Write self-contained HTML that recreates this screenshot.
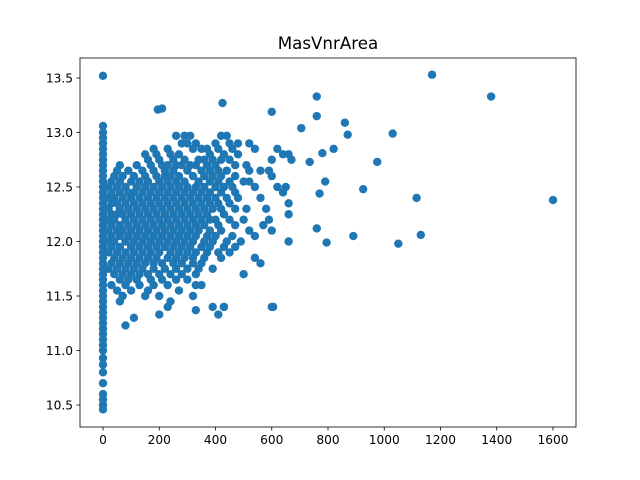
<!DOCTYPE html>
<html><head><meta charset="utf-8"><style>
body{margin:0;background:#fff;}
svg{display:block;font-family:"DejaVu Sans","Liberation Sans",sans-serif;}
</style></head><body>
<svg id="chart" width="640" height="480">
<rect width="640" height="480" fill="#fff"/>
<text x="328" y="49" font-size="16.7" text-anchor="middle">MasVnrArea</text>
<g id="pts"></g>
<g id="axes"></g>
</svg>
<script>
const xTicks=[0,200,400,600,800,1000,1200,1400,1600];
const yTicks=[10.5,11.0,11.5,12.0,12.5,13.0,13.5];
const zeroYs=[10.46,10.5,10.55,10.6,10.7,10.8,10.87,10.93,11.0,11.05,11.1,11.15,11.2,11.25,11.3,11.35,11.4,11.45,11.5,11.55,11.6,11.65,11.7,11.75,11.8,11.85,11.9,11.95,12.0,12.05,12.1,12.15,12.2,12.25,12.3,12.35,12.4,12.45,12.5,12.55,12.6,12.65,12.7,12.75,12.8,12.85,12.9,12.95,13.0,13.06,13.52];
const rowY=[12.97,12.9,12.85,12.8,12.75,12.7,12.65,12.6,12.55,12.5,12.45,12.4,12.35,12.3,12.25,12.2,12.15,12.1,12.05,12.0,11.95,11.9,11.85,11.8,11.75,11.7,11.65,11.6,11.55,11.5,11.45,11.4,11.37,11.33,11.3,11.23];
const rowX=[
[260,290,310,440,420],
[280,300,330,400,450,480,520],
[180,230,320,350,370,410,460,540,620],
[150,190,240,270,380,430,480,640,660],
[160,200,250,290,340,360,390,420,450,600,670],
[60,120,170,210,230,260,280,310,330,370,400,470,510],
[50,90,140,180,220,250,300,350,380,410,440,520,560,590],
[40,70,110,150,190,220,240,270,320,360,390,420,470,600],
[30,60,100,130,160,200,230,260,290,340,380,410,450,500,520],
[20,50,80,120,150,180,210,240,270,300,330,360,400,430,460,540,620,650],
[30,60,90,110,140,170,200,230,260,290,320,350,380,420,470,640],
[20,40,70,100,130,160,190,220,250,280,310,340,370,400,440,480,560],
[30,50,80,110,140,170,200,230,260,290,320,350,380,410,450,660],
[20,60,90,120,150,180,210,240,270,300,330,360,390,420,470,510,580],
[30,50,70,100,130,160,190,220,250,280,310,340,370,430,660],
[20,40,80,110,140,170,200,230,260,290,320,350,380,400,450,500,590],
[30,60,90,120,150,180,210,240,270,300,330,360,410,470,570],
[20,50,70,100,130,160,190,220,250,280,310,340,380,420,520,600],
[30,60,90,120,150,180,210,240,270,300,330,370,400,460,540],
[20,40,80,110,140,170,200,230,260,290,320,360,390,440,490,660],
[30,60,100,130,160,190,220,250,280,310,350,380,430,470],
[20,50,80,110,140,170,200,240,270,300,330,370,410,450],
[40,70,100,130,160,190,230,260,290,320,360,420,540],
[30,60,90,120,150,180,210,250,280,320,350,560],
[20,50,80,110,140,180,220,260,300,340,390],
[40,70,100,130,160,200,240,280,330,500],
[60,90,120,170,210,260,300],
[30,80,130,180,230,330,350],
[50,100,160,270],
[70,150,200,320],
[60,240],
[230,390,430,600],
[330],
[200,410],
[110],
[80]];
const outX=[1170,1380,1600,860,760,760,1030,975,925,890,1050,1130,1115,870,820,790,795,770,760,735,705,780,600,605,430,425,210,195];
const outY=[13.53,13.33,12.38,13.09,13.15,13.33,12.99,12.73,12.48,12.05,11.98,12.06,12.40,12.98,12.85,12.55,11.99,12.44,12.12,12.73,13.04,12.81,13.19,11.40,11.40,13.27,13.22,13.21];

const L=80,R=576,T=58,B=427;
function sx(v){return 103+(v-0)*(553-103)/1600;}
function sy(v){return 78+(13.5-v)*(405-78)/3;}
const NS="http://www.w3.org/2000/svg";
const pts=document.getElementById('pts');
function dot(x,y){
 const c=document.createElementNS(NS,'circle');
 c.setAttribute('cx',sx(x));c.setAttribute('cy',sy(y));c.setAttribute('r',4.2);c.setAttribute('fill','#1f77b4');
 
 
 pts.appendChild(c);
}
zeroYs.forEach(y=>dot(0,y));
rowY.forEach((y,i)=>rowX[i].forEach(x=>dot(x,y)));
outX.forEach((x,i)=>dot(x,outY[i]));

const ax=document.getElementById('axes');
const fr=document.createElementNS(NS,'rect');
fr.setAttribute('x',L);fr.setAttribute('y',T);fr.setAttribute('width',R-L);fr.setAttribute('height',B-T);
fr.setAttribute('fill','none');fr.setAttribute('stroke','#000');fr.setAttribute('stroke-width','0.8');


ax.appendChild(fr);
xTicks.forEach(v=>{
 const x=sx(v);
 const l=document.createElementNS(NS,'line');
 l.setAttribute('x1',x);l.setAttribute('x2',x);l.setAttribute('y1',B);l.setAttribute('y2',B+3.5);l.setAttribute('stroke','#000');l.setAttribute('stroke-width','0.8');
 
 
 ax.appendChild(l);
 const t=document.createElementNS(NS,'text');
 t.setAttribute('x',x);t.setAttribute('y',B+17);t.setAttribute('font-size','12.2');t.setAttribute('text-anchor','middle');
 t.textContent=v;
 
 
 ax.appendChild(t);
});
yTicks.forEach(v=>{
 const y=sy(v);
 const l=document.createElementNS(NS,'line');
 l.setAttribute('x1',L-3.5);l.setAttribute('x2',L);l.setAttribute('y1',y);l.setAttribute('y2',y);l.setAttribute('stroke','#000');l.setAttribute('stroke-width','0.8');
 
 
 ax.appendChild(l);
 const t=document.createElementNS(NS,'text');
 t.setAttribute('x',L-7);t.setAttribute('y',y+4.5);t.setAttribute('font-size','12.2');t.setAttribute('text-anchor','end');
 t.textContent=v.toFixed(1);
 
 
 ax.appendChild(t);
});
</script>
</body></html>
